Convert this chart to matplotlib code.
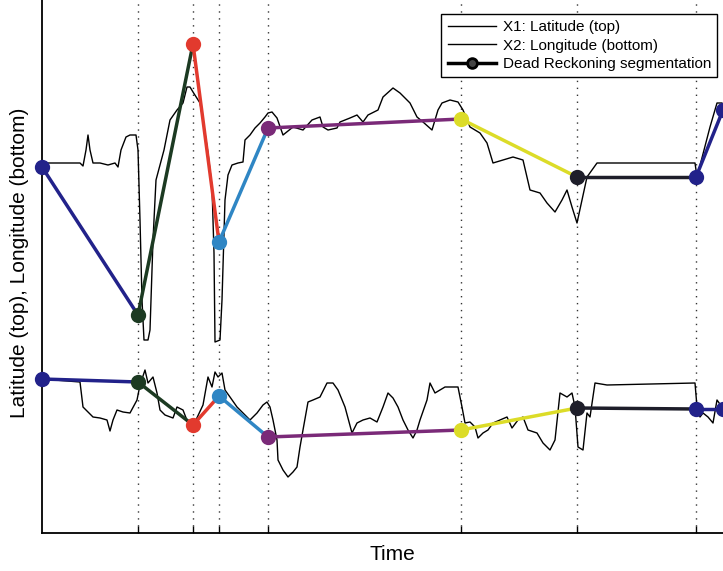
import numpy as np
import matplotlib
matplotlib.use("Agg")
import matplotlib.pyplot as plt
from matplotlib.lines import Line2D

plt.rcParams['font.family'] = ['Liberation Sans', 'DejaVu Sans']

# raw latitude trace (top)
lat_t = [0, 38, 41, 44, 46, 48, 51, 58, 66, 73, 76, 79, 84, 88, 94, 96, 98, 100, 102, 106,
         108, 111, 114, 118, 122, 128, 135, 141, 145, 148, 151, 158, 161, 166, 170, 172, 173,
         178, 180, 183, 186, 190, 196, 201, 203, 208, 213, 218, 223, 226, 230, 235, 241, 251,
         261, 270, 278, 281, 286, 295, 298, 308, 315, 321, 326, 336, 341, 351, 358, 368, 375,
         381, 390, 396, 400, 408, 416, 421, 428, 438, 445, 451, 461, 471, 481, 488, 498, 505,
         513, 520, 525, 530, 535, 540, 545, 555, 653, 655, 668, 675, 680, 683]
lat_v = [370, 370, 367, 383, 398, 383, 370, 370, 368, 370, 366, 383, 396, 398, 398, 383, 313,
         233, 193, 193, 203, 293, 353, 368, 383, 413, 423, 430, 446, 446, 441, 430, 413, 380,
         346, 280, 191, 193, 233, 333, 358, 368, 370, 371, 393, 398, 405, 410, 416, 420, 421,
         415, 398, 406, 403, 413, 416, 406, 403, 405, 411, 415, 418, 411, 418, 423, 436, 445,
         440, 430, 416, 411, 403, 423, 430, 433, 431, 423, 406, 400, 390, 370, 373, 376, 373,
         343, 340, 330, 321, 333, 343, 326, 310, 333, 356, 370, 370, 356, 406, 430, 430, 423]

# raw longitude trace (bottom)
lon_t = [0, 38, 41, 46, 51, 58, 65, 68, 71, 75, 81, 88, 95, 98, 103, 106, 111, 115, 118, 123,
         131, 135, 141, 146, 153, 161, 166, 170, 173, 176, 180, 183, 188, 195, 201, 208, 215,
         221, 225, 228, 231, 235, 236, 241, 246, 251, 255, 258, 261, 266, 271, 278, 285, 291,
         296, 303, 310, 315, 321, 328, 335, 341, 346, 351, 356, 361, 366, 371, 375, 378, 385,
         388, 393, 398, 403, 416, 420, 423, 428, 433, 436, 441, 446, 451, 458, 465, 470, 476,
         481, 486, 495, 501, 508, 513, 518, 525, 530, 533, 536, 541, 545, 548, 553, 565, 653,
         655, 658, 661, 666, 671, 675, 680, 688]
lon_v = [154, 151, 126, 121, 116, 115, 113, 102, 113, 123, 121, 120, 133, 148, 163, 150, 156,
         140, 123, 118, 115, 126, 123, 110, 111, 128, 156, 146, 161, 156, 160, 143, 136, 126,
         120, 113, 120, 128, 131, 126, 113, 93, 73, 63, 56, 61, 66, 86, 103, 131, 133, 136, 150,
         150, 143, 126, 100, 110, 113, 115, 111, 126, 140, 135, 126, 113, 103, 95, 103, 113,
         133, 150, 140, 143, 146, 146, 126, 110, 111, 106, 95, 100, 103, 110, 113, 116, 105,
         113, 116, 103, 100, 90, 83, 93, 140, 136, 140, 126, 86, 83, 120, 116, 150, 148, 150,
         126, 116, 120, 116, 110, 133, 126, 128]

# dead reckoning segmentation
seg_t = [0, 96, 151, 177, 226, 419, 535, 654, 681]
seg_lat = [366, 218, 489, 291, 405, 414, 356, 356, 423]
seg_lon = [154, 151, 108, 137, 96, 103, 125, 124, 124]
seg_colors = ['#22228a', '#1c3a22', '#e23a2e', '#2f86c4', '#7a2a78', '#dcdc28', '#1e1e2a',
              '#22228a', '#22228a']

fig = plt.figure(figsize=(7.23, 5.71), dpi=100)
ax = fig.add_axes([42 / 723, 38 / 571, 700 / 723, 540 / 571])

l1, = ax.plot(lat_t, lat_v, color='black', lw=1.0, label='X1: Latitude (top)')
l2, = ax.plot(lon_t, lon_v, color='black', lw=1.0, label='X2: Longitude (bottom)')

for vals in (seg_lat, seg_lon):
    for i in range(len(seg_t) - 1):
        ax.plot(seg_t[i:i + 2], vals[i:i + 2], color=seg_colors[i], lw=2.5, zorder=3)
    for i in range(len(seg_t)):
        ax.plot(seg_t[i], vals[i], 'o', color=seg_colors[i], ms=9, mew=2,
                mfc=seg_colors[i], zorder=4, clip_on=False)

for t in seg_t[1:-1]:
    ax.axvline(t, color='#333333', lw=1, dashes=(1, 4), zorder=1)

ax.set_xlim(0, 700)
ax.set_ylim(0, 540)
ax.set_xticks(seg_t[1:-1])
ax.set_xticklabels([])
ax.set_yticks([])
ax.tick_params(axis='x', direction='in', length=5, width=1)
for s in ax.spines.values():
    s.set_linewidth(1.3)

ax.set_xlabel('Time', fontsize=15, labelpad=5)
ax.set_ylabel('Latitude (top), Longitude (bottom)', fontsize=15, labelpad=9)

dr = Line2D([], [], color='black', lw=2.5, marker='o', ms=7, mfc='#444444',
            mew=2, label='Dead Reckoning segmentation')
leg = ax.legend(handles=[l1, l2, dr], loc='upper right', bbox_to_anchor=(717 / 723, 1 - 14 / 571),
                bbox_transform=fig.transFigure, fontsize=11, handlelength=3.2, fancybox=False,
                edgecolor='black', framealpha=1, borderpad=0.4, labelspacing=0.3,
                handletextpad=0.4, borderaxespad=0)
leg.get_frame().set_linewidth(1)

fig.savefig('out.png', dpi=100)
